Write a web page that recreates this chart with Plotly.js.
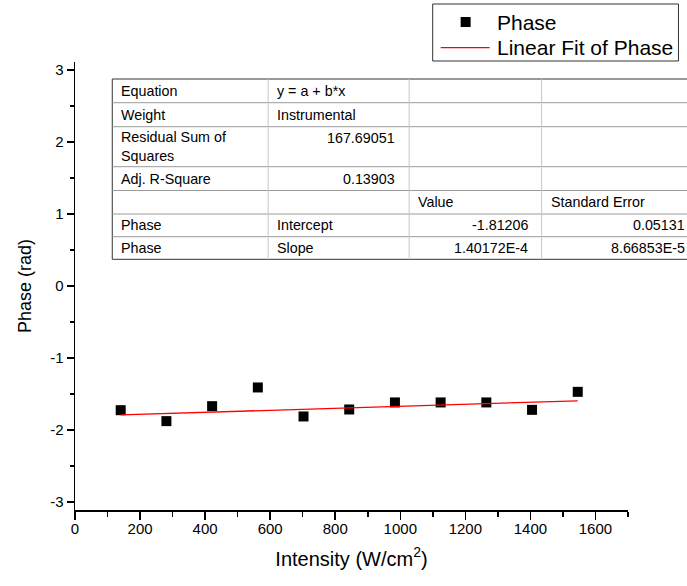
<!DOCTYPE html>
<html>
<head>
<meta charset="utf-8">
<script src="https://cdn.plot.ly/plotly-3.0.1.min.js"></script>
<style>html,body{margin:0;padding:0;background:#fff;}#chart{width:687px;height:586px;}</style>
</head>
<body>
<div id="chart"></div>
<script>
// ---- Data ----
const intensity = [140.5, 281, 421.5, 562, 702.5, 843, 983.5, 1124, 1264.5, 1405, 1545.5];
const phase = [-1.726, -1.878, -1.670, -1.410, -1.813, -1.716, -1.618, -1.618, -1.618, -1.721, -1.471];
const fitIntercept = -1.81206;
const fitSlope = 1.40172e-4;

const yTickVals = [-3, -2, -1, 0, 1, 2, 3];
const yTickText = ["-3", "-2", "-1", "0", "1", "2", "3"];
const xTickVals = [0, 200, 400, 600, 800, 1000, 1200, 1400, 1600];
const xTickText = ["0", "200", "400", "600", "800", "1000", "1200", "1400", "1600"];

const legendNames = ["Phase", "Linear Fit of Phase"];

const tableCol1 = ["Equation", "Weight", "Residual Sum of<br>Squares", "Adj. R-Square", "", "Phase", "Phase"];
const tableCol2 = ["y = a + b*x", "Instrumental", "167.69051", "0.13903", "", "Intercept", "Slope"];
const tableCol3 = ["", "", "", "", "Value", "-1.81206", "1.40172E-4"];
const tableCol4 = ["", "", "", "", "Standard Error", "0.05131", "8.66853E-5"];
const col2Align = ["left", "left", "right", "right", "left", "left", "left"];
const col3Align = ["left", "left", "left", "left", "left", "right", "right"];
const col4Align = ["left", "left", "left", "left", "left", "right", "right"];

// ---- Layout geometry (pixels) ----
const L = 75, R = 628.5, T = 62, B = 510;
const pw = R - L, ph = B - T;
function px(x) { return (x - L) / pw; }
function py(y) { return (B - y) / ph; }

const fitX = [intensity[0], intensity[intensity.length - 1]];
const fitY = fitX.map(x => fitIntercept + fitSlope * x);

const traces = [
  {
    x: intensity, y: phase, type: 'scatter', mode: 'markers', name: legendNames[0],
    marker: { symbol: 'square', size: 10, color: '#000' }
  },
  {
    x: fitX, y: fitY, type: 'scatter', mode: 'lines', name: legendNames[1],
    line: { color: '#ff0000', width: 1.3 }
  }
];

const shapes = [];
const annotations = [];
const FONT = 'Liberation Sans, Arial, sans-serif';

// ---- table ----
const colX = [112.3, 268.3, 409.5, 542, 700];
const rowY = [79, 102.7, 126.7, 166.7, 190.5, 214, 236.7, 259.3];
shapes.push({ type: 'rect', xref: 'paper', yref: 'paper', x0: px(colX[0]), x1: px(colX[4]), y0: py(rowY[0]), y1: py(rowY[7]),
  line: { color: '#333', width: 1 }, fillcolor: '#fff', layer: 'above' });
for (let i = 1; i < rowY.length - 1; i++) {
  shapes.push({ type: 'line', xref: 'paper', yref: 'paper', x0: px(colX[0]), x1: px(colX[4]), y0: py(rowY[i]), y1: py(rowY[i]),
    line: { color: '#9a9a9a', width: 1 } });
}
for (let j = 1; j < 4; j++) {
  shapes.push({ type: 'line', xref: 'paper', yref: 'paper', x0: px(colX[j]), x1: px(colX[j]), y0: py(rowY[0]), y1: py(rowY[7]),
    line: { color: '#c8c8c8', width: 1 } });
}
const tfont = { family: FONT, size: 14.3, color: '#000' };
function cell(text, col, row, align, yOverride) {
  if (!text) return;
  const yc = yOverride !== undefined ? yOverride : (rowY[row] + rowY[row + 1]) / 2;
  const x = align === 'left' ? colX[col] + 7 : colX[col + 1] - 12;
  annotations.push({ xref: 'paper', yref: 'paper', x: px(x), y: py(yc), text: text, showarrow: false,
    xanchor: align, yanchor: 'middle', align: 'left', font: tfont });
}
for (let r = 0; r < 7; r++) {
  cell(tableCol1[r], 0, r, 'left');
  const topLine = (r === 2) ? 138 : undefined;
  cell(tableCol2[r], 1, r, col2Align[r], topLine);
  cell(tableCol3[r], 2, r, col3Align[r]);
  cell(tableCol4[r], 3, r, col4Align[r]);
}

// ---- legend (drawn as a framed key) ----
shapes.push({ type: 'rect', xref: 'paper', yref: 'paper', x0: px(433), x1: px(679), y0: py(4), y1: py(61),
  line: { color: '#333', width: 1 }, fillcolor: '#fff', layer: 'above' });
shapes.push({ type: 'rect', xref: 'paper', yref: 'paper', x0: px(461), x1: px(471), y0: py(17), y1: py(27),
  line: { width: 0 }, fillcolor: '#000', layer: 'above' });
shapes.push({ type: 'line', xref: 'paper', yref: 'paper', x0: px(441), x1: px(490), y0: py(47.7), y1: py(47.7),
  line: { color: '#ff0000', width: 1.3 }, layer: 'above' });
const lfont = { family: FONT, size: 21, color: '#000' };
annotations.push({ xref: 'paper', yref: 'paper', x: px(495), y: py(22), text: legendNames[0], showarrow: false,
  xanchor: 'left', yanchor: 'middle', font: lfont });
annotations.push({ xref: 'paper', yref: 'paper', x: px(495), y: py(47), text: legendNames[1], showarrow: false,
  xanchor: 'left', yanchor: 'middle', font: lfont });

const layout = {
  width: 687, height: 586,
  margin: { l: L, r: 687 - R, t: T, b: 586 - B, pad: 0 },
  paper_bgcolor: '#fff', plot_bgcolor: '#fff',
  font: { family: FONT, color: '#000' },
  showlegend: false,
  xaxis: {
    range: [0, 1700], tickmode: 'array', tickvals: xTickVals, ticktext: xTickText,
    showline: true, linecolor: '#000', linewidth: 1.5, mirror: false,
    showgrid: false, zeroline: false,
    ticks: 'outside', ticklen: 8, tickwidth: 1.5, tickcolor: '#000',
    minor: { dtick: 100, tick0: 0, ticks: 'outside', ticklen: 5, tickwidth: 1.5, tickcolor: '#000', showgrid: false },
    tickfont: { size: 15, color: '#000' },
    ticklabelstandoff: -4,
    title: { text: 'Intensity (W/cm<sup>2</sup>)', font: { size: 20, color: '#000' }, standoff: 16 },
    automargin: false
  },
  yaxis: {
    range: [-3.113, 3.113], tickmode: 'array', tickvals: yTickVals, ticktext: yTickText,
    showline: true, linecolor: '#000', linewidth: 1.5, mirror: false,
    showgrid: false, zeroline: false,
    ticks: 'outside', ticklen: 7, tickwidth: 1.5, tickcolor: '#000',
    minor: { dtick: 0.5, tick0: 0, ticks: 'outside', ticklen: 4, tickwidth: 1.5, tickcolor: '#000', showgrid: false },
    tickfont: { size: 15, color: '#000' },
    title: { text: 'Phase (rad)', font: { size: 18, color: '#000' }, standoff: 14 },
    automargin: false
  },
  shapes: shapes,
  annotations: annotations
};

Plotly.newPlot('chart', traces, layout, { displayModeBar: false, staticPlot: true });
</script>
</body>
</html>
